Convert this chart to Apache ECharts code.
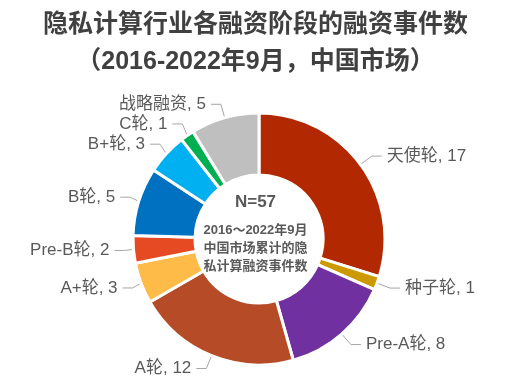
<!DOCTYPE html>
<html>
<head>
<meta charset="utf-8">
<script src="https://cdn.jsdelivr.net/npm/echarts@6/dist/echarts.min.js"></script>
<style>
  html, body { margin: 0; padding: 0; background: #fff; }
  #chart { width: 511px; height: 378px; }
</style>
</head>
<body>
<div id="chart"></div>
<script>
// 融资阶段（从12点方向顺时针）
var stages = ["天使轮", "种子轮", "Pre-A轮", "A轮", "A+轮", "Pre-B轮", "B轮", "B+轮", "C轮", "战略融资"];
var counts = [17, 1, 8, 12, 3, 2, 5, 3, 1, 5];
var colors = ["#B22800", "#CC9900", "#7030A0", "#B64B27", "#FFBB47", "#E64A22", "#0070C0", "#00B0F0", "#00B050", "#BFBFBF"];

(function () {
  var myChart = echarts.init(document.getElementById("chart"));
  var font = "'Liberation Sans', 'Noto Sans CJK SC', sans-serif";
  var total = counts.reduce(function (a, b) { return a + b; }, 0);

  var data = stages.map(function (s, i) {
    return { name: s, value: counts[i], itemStyle: { color: colors[i] } };
  });

  var option = {
    animation: false,
    title: {
      text: "隐私计算行业各融资阶段的融资事件数\n（2016-2022年9月，中国市场）",
      left: "center",
      top: 2,
      textStyle: {
        fontFamily: font,
        fontSize: 25,
        fontWeight: "bold",
        color: "#404040",
        lineHeight: 37
      }
    },
    graphic: [
      {
        type: "text",
        left: "center",
        top: 194,
        style: {
          text: "N=" + total,
          font: "bold 17px " + font,
          fill: "#595959"
        }
      },
      {
        type: "text",
        left: "center",
        top: 221,
        style: {
          text: "2016～2022年9月\n中国市场累计的隐\n私计算融资事件数",
          font: "bold 13px " + font,
          fill: "#595959",
          align: "center",
          lineHeight: 18
        }
      }
    ],
    series: [
      {
        type: "pie",
        center: [259, 239],
        radius: [64, 126],
        startAngle: 90,
        clockwise: true,
        avoidLabelOverlap: true,
        itemStyle: {
          borderColor: "#fff",
          borderWidth: 3
        },
        label: {
          show: true,
          position: "outside",
          formatter: "{b}, {c}",
          fontFamily: font,
          fontSize: 17,
          color: "#595959"
        },
        labelLine: {
          show: true,
          length: 14,
          length2: 10,
          lineStyle: { color: "#A6A6A6", width: 1 }
        },
        data: data
      }
    ]
  };

  myChart.setOption(option);
  window.addEventListener("resize", function () {
    myChart.resize();
  });
})();
</script>
</body>
</html>
